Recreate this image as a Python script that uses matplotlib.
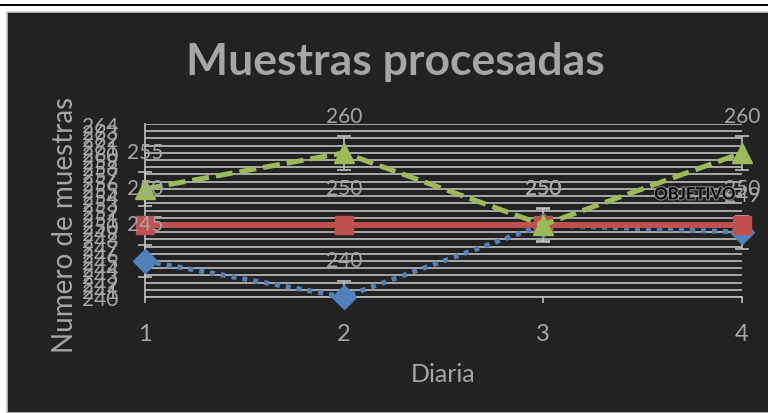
import numpy as np
import matplotlib.pyplot as plt
import matplotlib.patheffects as pe
from matplotlib.patches import Rectangle

plt.rcParams['font.family'] = ['Lato', 'DejaVu Sans']

dias = [1, 2, 3, 4]
serie_azul = [245, 240, 250, 249]
objetivo = [250, 250, 250, 250]
serie_verde = [255, 260, 250, 260]
y_ticks = list(range(240, 265))

fondo = '#222222'
gris = '#a6a6a6'
rejilla = '#bfbfbf'

fig = plt.figure(figsize=(7.68, 4.14), dpi=100, facecolor='white')
# marco del grafico (estilo Excel)
fig.patches.append(Rectangle((0, 1 - 7 / 414), 1, 2 / 414, transform=fig.transFigure,
                             facecolor='black', edgecolor='none', zorder=-10))
fig.patches.append(Rectangle((7 / 768, 0), 1, 1 - 13 / 414, transform=fig.transFigure,
                             facecolor=fondo, edgecolor='#c8c8c8', linewidth=1.2, zorder=-10))

ax = fig.add_axes([145 / 768, 116 / 414, 597 / 768, 173 / 414])
ax.set_facecolor(fondo)
ax.patch.set_alpha(0)

# error estandar (como en Excel)
def err_std(v):
    return np.std(v, ddof=1) / np.sqrt(len(v))

# recorte solo vertical para las barras de error
recorte = Rectangle((-0.05, 0), 1.1, 1, transform=ax.transAxes, facecolor='none')
for serie in [serie_azul, serie_verde]:
    eb = ax.errorbar(dias, serie, yerr=err_std(serie), fmt='none', ecolor=rejilla,
                     elinewidth=1.2, capsize=5, capthick=1.2, zorder=3)
    for art in list(eb.lines[1]) + list(eb.lines[2]):
        art.set_clip_path(recorte)

ax.plot(dias, serie_azul, color='#4f81bd', linewidth=3.6, linestyle=(0, (1, 1.2)),
        dash_capstyle='butt', marker='D', markersize=12, zorder=4, clip_on=False)
ax.plot(dias, objetivo, color='#c0504d', linewidth=4.3, marker='s', markersize=13.5,
        zorder=5, clip_on=False)
ax.plot(dias, serie_verde, color='#9bbb59', linewidth=3.6, linestyle=(0, (3.4, 1.4)),
        dash_capstyle='butt', marker='^', markersize=14, zorder=6, clip_on=False)

for serie in [serie_azul, objetivo, serie_verde]:
    for x, v in zip(dias, serie):
        ax.annotate(str(v), (x, v), xytext=(0, 26.5), textcoords='offset points',
                    ha='center', va='center', fontsize=15, color=gris, zorder=8,
                    annotation_clip=False)

ax.annotate('OBJETIVO', (dias[-1], objetivo[-1]), xytext=(-34, 22), textcoords='offset points',
            ha='center', va='center', fontsize=12, fontweight='bold', color='black', zorder=9,
            annotation_clip=False,
            path_effects=[pe.withStroke(linewidth=1.5, foreground='#8a8a8a')])

ax.set_xlim(1, 4)
ax.set_ylim(240, 264)
ax.set_xticks(dias)
ax.set_yticks(y_ticks)
ax.grid(axis='y', color=rejilla, linewidth=1.2)
ax.set_axisbelow(True)
for s in ['top', 'right']:
    ax.spines[s].set_visible(False)
for s in ['left', 'bottom']:
    ax.spines[s].set_color(rejilla)
    ax.spines[s].set_linewidth(1.2)
ax.tick_params(axis='x', colors=rejilla, length=4, width=1.2, pad=15, labelsize=17,
               labelcolor=gris)
ax.tick_params(axis='y', colors=rejilla, length=0, pad=19, labelsize=15, labelcolor=gris)

ax.set_xlabel('Diaria', fontsize=18, color=gris, labelpad=13)
fig.text(65 / 768, 1 - 225 / 414, 'Numero de muestras', rotation=90, ha='center', va='center',
         fontsize=20, color=gris)
fig.text(395 / 768, 1 - 62 / 414, 'Muestras procesadas', ha='center', va='center',
         fontsize=32, fontweight='bold', color=gris)

fig.savefig('out.png', dpi=100, facecolor='white')
